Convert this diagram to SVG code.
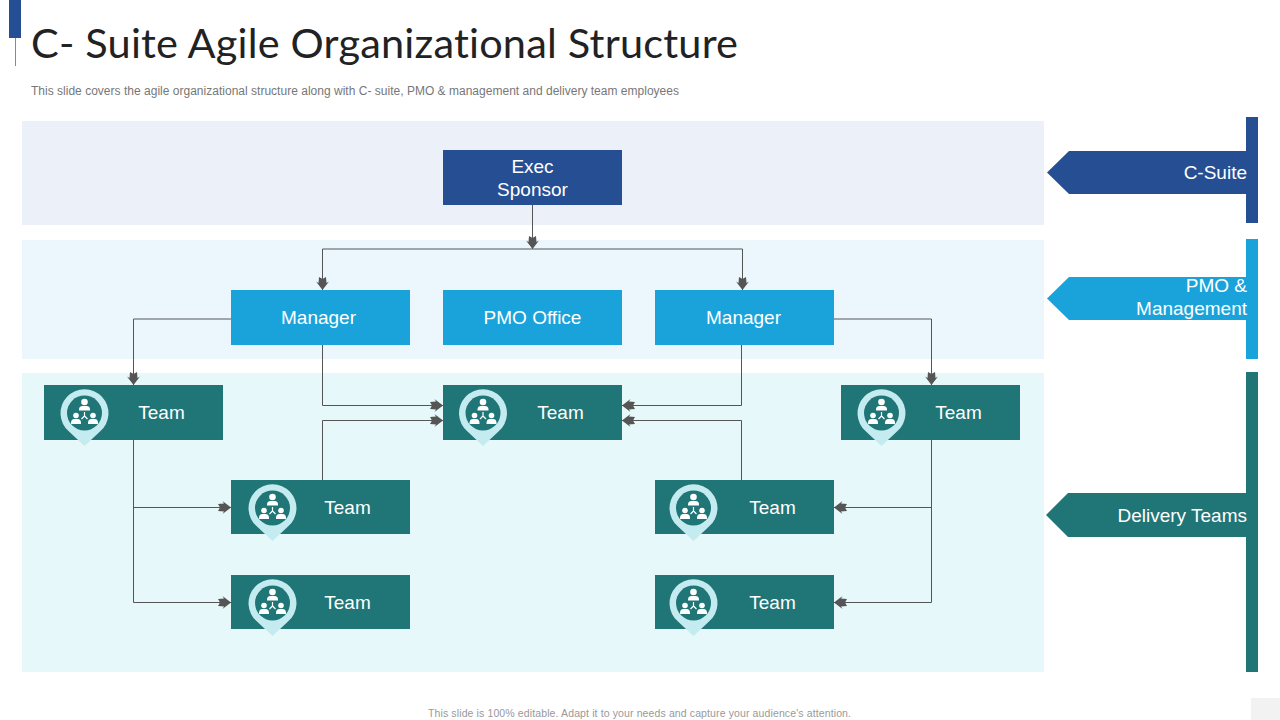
<svg xmlns="http://www.w3.org/2000/svg" xmlns:xlink="http://www.w3.org/1999/xlink" width="1280" height="720" viewBox="0 0 1280 720">
<style>
text{font-family:"Liberation Sans",Arial,sans-serif}
.lbl{fill:#fff;font-size:19px;text-anchor:middle}
.side{fill:#fff;font-size:19px;text-anchor:end}
.wire{fill:none;stroke:#555;stroke-width:1}
.navy{fill:#264F93}.blue{fill:#1AA3DB}.teal{fill:#207577}
</style>
<defs>
<marker id="ah" markerUnits="userSpaceOnUse" markerWidth="16" markerHeight="16" refX="14" refY="8" orient="auto">
<polygon points="1,4.500 7,4 5.500,1.500 14,8 5.500,14.500 7,12 1,11.500 3,8" fill="#555"/>
</marker>
<g id="ico">
<path d="M0,33 L-15.500,18.500 A24,24 0 1 1 15.500,18.500 Z" fill="#C4EBF0"/>
<circle r="17.500" fill="#207577"/>
<g fill="#fff">
<circle cy="-11" r="3.300"/><path d="M-5.500,-3.500 Q-5.500,-7 -2,-7 H2 Q5.500,-7 5.500,-3.500 V-2.500 H-5.500Z"/>
<circle cx="-8.500" cy="2.500" r="2.800"/><path d="M-13.500,10 Q-13.500,6 -10,6 H-7 Q-3.500,6 -3.500,10 V11 H-13.500Z"/>
<circle cx="8.500" cy="2.500" r="2.800"/><path d="M3.500,10 Q3.500,6 7,6 H10 Q13.500,6 13.500,10 V11 H3.500Z"/>
<path d="M0,-1 V3 L-3,6 M0,3 L3,6" stroke="#fff" stroke-width="1.200" fill="none"/>
</g>
</g>
</defs>
<rect width="1280" height="720" fill="#fff"/>
<g id="header">
<rect x="9" y="0" width="12" height="38" class="navy"/>
<rect x="15" y="38" width="1" height="28" fill="#8a8a8a"/>
<text x="31" y="58" font-size="41.500" fill="#222" textLength="707" style="font-family:Lato,'Liberation Sans',sans-serif;font-variant-ligatures:none">C- Suite Agile Organizational Structure</text>
<text x="31" y="94.500" font-size="12" fill="#777" textLength="648">This slide covers the agile organizational structure along with C- suite, PMO &amp; management and delivery team employees</text>
</g>
<g id="bands">
<rect x="22" y="121" width="1022" height="104" fill="#EBF0F9"/>
<rect x="22" y="240" width="1022" height="119" fill="#EBF7FD"/>
<rect x="22" y="373" width="1022" height="299" fill="#E7F8FA"/>
</g>
<g id="connectors" class="wire">
<path d="M532.500,205V249" marker-end="url(#ah)"/>
<path d="M532.500,249H322.500V290" marker-end="url(#ah)"/>
<path d="M532.500,249H742.500V290" marker-end="url(#ah)"/>
<path d="M231,319H133.500V385" marker-end="url(#ah)"/>
<path d="M834,319H931.500V385" marker-end="url(#ah)"/>
<path d="M322.500,345V405.500H443" marker-end="url(#ah)"/>
<path d="M322.500,480V420.500H443" marker-end="url(#ah)"/>
<path d="M741.500,345V405.500H622" marker-end="url(#ah)"/>
<path d="M741.500,480V420.500H622" marker-end="url(#ah)"/>
<path d="M133.500,440V507.500H231" marker-end="url(#ah)"/>
<path d="M133.500,507V602.500H231" marker-end="url(#ah)"/>
<path d="M931.500,440V507.500H834" marker-end="url(#ah)"/>
<path d="M931.500,507V602.500H834" marker-end="url(#ah)"/>
</g>
<g id="exec"><rect x="443" y="150" width="179" height="55" class="navy"/><text class="lbl" x="532.500" y="172.500">Exec</text><text class="lbl" x="532.500" y="195.500">Sponsor</text></g>
<g id="mgr-left"><rect x="231" y="290" width="179" height="55" class="blue"/><text class="lbl" x="318.500" y="323.500">Manager</text></g>
<g id="pmo"><rect x="443" y="290" width="179" height="55" class="blue"/><text class="lbl" x="532.500" y="323.500">PMO Office</text></g>
<g id="mgr-right"><rect x="655" y="290" width="179" height="55" class="blue"/><text class="lbl" x="743.500" y="323.500">Manager</text></g>
<g id="team-1"><rect x="44" y="385" width="179" height="55" class="teal"/><use href="#ico" x="84.500" y="413"/><text class="lbl" x="161.500" y="418.500">Team</text></g>
<g id="team-2"><rect x="443" y="385" width="179" height="55" class="teal"/><use href="#ico" x="483" y="413"/><text class="lbl" x="560.500" y="418.500">Team</text></g>
<g id="team-3"><rect x="841" y="385" width="179" height="55" class="teal"/><use href="#ico" x="881.500" y="413"/><text class="lbl" x="958.500" y="418.500">Team</text></g>
<g id="team-4"><rect x="231" y="480" width="179" height="54" class="teal"/><use href="#ico" x="272.500" y="508"/><text class="lbl" x="347.500" y="513.500">Team</text></g>
<g id="team-5"><rect x="231" y="575" width="179" height="54" class="teal"/><use href="#ico" x="272.500" y="603"/><text class="lbl" x="347.500" y="608.500">Team</text></g>
<g id="team-6"><rect x="655" y="480" width="179" height="54" class="teal"/><use href="#ico" x="693.500" y="508"/><text class="lbl" x="772.500" y="513.500">Team</text></g>
<g id="team-7"><rect x="655" y="575" width="179" height="54" class="teal"/><use href="#ico" x="693.500" y="603"/><text class="lbl" x="772.500" y="608.500">Team</text></g>
<g id="side-csuite"><rect x="1246" y="117" width="12" height="106" class="navy"/><polygon points="1047,172.500 1069,151 1247,151 1247,194 1069,194" class="navy"/><text class="side" x="1247" y="178.500">C-Suite</text></g>
<g id="side-pmo"><rect x="1246" y="239" width="12" height="120" class="blue"/><polygon points="1047,298.500 1069,277 1247,277 1247,320 1069,320" class="blue"/><text class="side" x="1247" y="291.500">PMO &amp;</text><text class="side" x="1247" y="314.500">Management</text></g>
<g id="side-delivery"><rect x="1246" y="372" width="12" height="300" class="teal"/><polygon points="1046,515 1068,493 1247,493 1247,537 1068,537" class="teal"/><text class="side" x="1247" y="521.500">Delivery Teams</text></g>
<g id="footer">
<text x="639.500" y="717" font-size="10.500" fill="#999" text-anchor="middle" textLength="423">This slide is 100% editable. Adapt it to your needs and capture your audience's attention.</text>
<rect x="1251" y="698" width="29" height="22" fill="#f2f2f2"/>
</g>
</svg>
